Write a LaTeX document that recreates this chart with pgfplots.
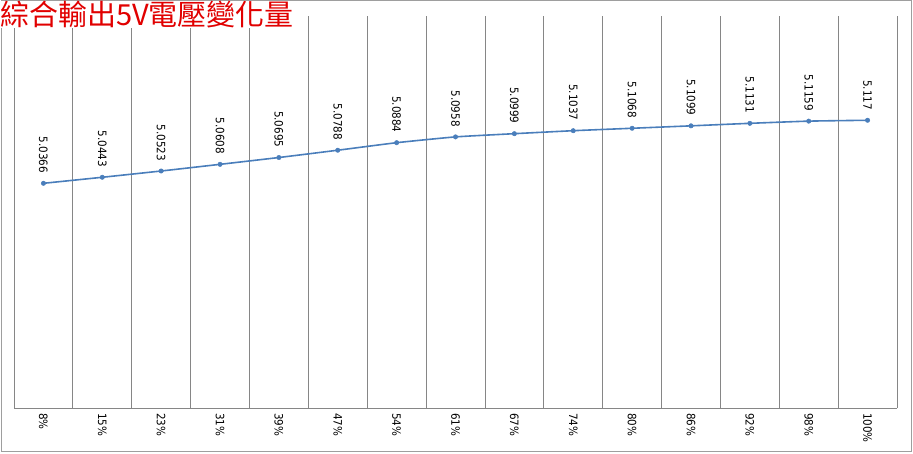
\documentclass[border=0pt]{standalone}
\usepackage{pgfplots}
\pgfplotsset{compat=1.18}
\usepackage{fontspec}
\setmainfont{DejaVu Sans Condensed}
\newfontfamily\cjk{Noto Sans CJK TC}
\definecolor{lineblue}{RGB}{74,126,187}
\definecolor{gridgray}{RGB}{134,134,134}
\definecolor{titlered}{RGB}{225,0,0}

\pgfplotstableread{
x y
0 5.0366
1 5.0443
2 5.0523
3 5.0608
4 5.0695
5 5.0788
6 5.0884
7 5.0958
8 5.0999
9 5.1037
10 5.1068
11 5.1099
12 5.1131
13 5.1159
14 5.117
}\voltdata

\begin{document}
\begin{tikzpicture}[x=1pt,y=1pt]
\useasboundingbox (0,0) rectangle (913,453);
\draw[gridgray!80, line width=0.8pt] (1,1.5) rectangle (911.5,452.5);

\begin{axis}[
    at={(14pt,45pt)}, anchor=south west,
    width=883pt, height=392pt, scale only axis,
    xmin=-0.5, xmax=14.5, ymin=4.75, ymax=5.25,
    axis x line*=bottom, axis y line*=left,
    y axis line style={draw=none},
    x axis line style={gridgray, line width=0.8pt, -},
    ytick=\empty,
    xtick={0,...,14},
    xticklabels={8\%,15\%,23\%,31\%,39\%,47\%,54\%,61\%,67\%,74\%,80\%,86\%,92\%,98\%,100\%},
    major tick length=0pt,
    xticklabel style={rotate=-90, anchor=west, font=\fontsize{11.5}{13}\selectfont, xshift=1.5pt},
    extra x ticks={-0.5,0.5,1.5,2.5,3.5,4.5,5.5,6.5,7.5,8.5,9.5,10.5,11.5,12.5,13.5,14.5},
    extra x tick labels={},
    extra x tick style={grid=major, major grid style={gridgray, line width=0.8pt}},
    clip=false,
]

\addplot[
    lineblue, line width=1.6pt, smooth, tension=0.3,
    mark=*, mark size=2.2pt, mark options={fill=lineblue, draw=lineblue, line width=0.5pt},
    nodes near coords, point meta=explicit symbolic,
    every node near coord/.append style={
        text=black, font=\fontsize{11.5}{13}\selectfont,
        yshift=10pt, rotate=-90, anchor=east, inner sep=0pt
    },
] table[x=x, y=y, meta=y]{\voltdata};

\end{axis}

\node[anchor=north west, inner sep=0pt, fill=white, text=titlered,
      font=\cjk\fontsize{29}{31}\selectfont] at (0,452.5) {綜合輸出5V電壓變化量};
\end{tikzpicture}
\end{document}
